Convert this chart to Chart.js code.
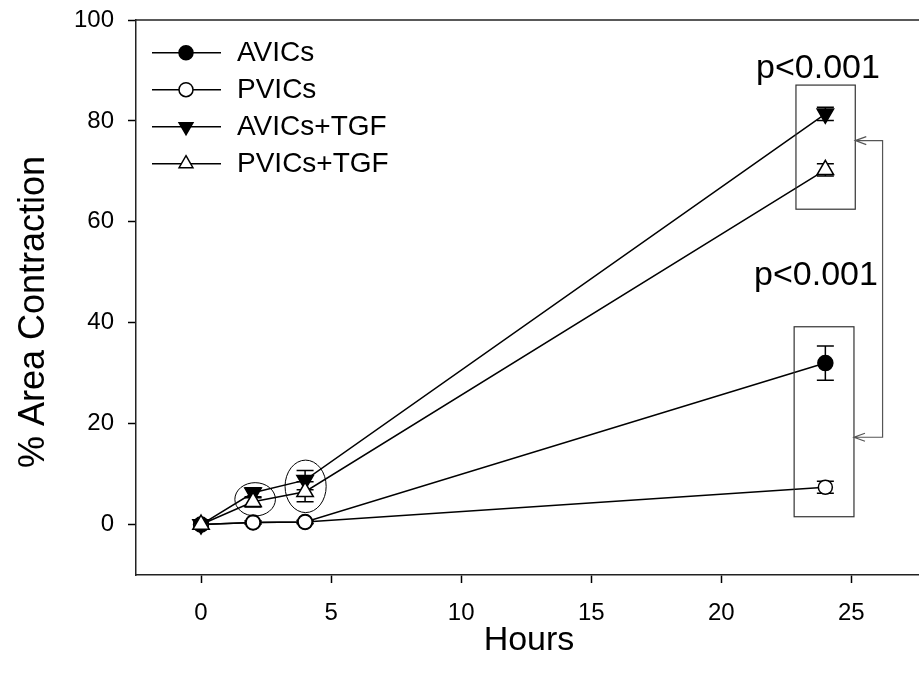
<!DOCTYPE html>
<html>
<head>
<meta charset="utf-8">
<script src="https://cdn.jsdelivr.net/npm/chart.js@4.4.1/dist/chart.umd.min.js"></script>
<style>
  html, body { margin: 0; padding: 0; background: #fff; overflow: hidden; }
  canvas { display: block; }
</style>
</head>
<body>
<canvas id="contractionChart" width="919" height="686"></canvas>
<script>
//======================================================================================================================================================================
// 데이터 ===============================================================================================================================================================
const hours = [0, 2, 4, 24];                               // X축 (시간)
const seriesNames = ['AVICs', 'PVICs', 'AVICs+TGF', 'PVICs+TGF'];

const avicsMean    = [0, 0.4, 0.5, 32.0];                  // % 면적 수축
const avicsErr     = [0, 0.3, 0.3, 3.4];
const pvicsMean    = [0, 0.4, 0.5, 7.4];
const pvicsErr     = [0, 0.3, 0.3, 1.2];
const avicsTgfMean = [0, 6.3, 8.8, 81.4];
const avicsTgfErr  = [0, 1.0, 1.9, 1.3];
const pvicsTgfMean = [0, 4.5, 6.5, 70.3];
const pvicsTgfErr  = [0, 1.0, 2.0, 1.2];

const xTicks = [0, 5, 10, 15, 20, 25];
const yTicks = [0, 20, 40, 60, 80, 100];
const pLabel = 'p<0.001';

const FONT = "'Liberation Sans', Arial, Helvetica, sans-serif";

// 라인 데이터셋 생성
function createLineDataset(label, means, errs, style, fill, rotation, radius, order){
    return {
        label: label,
        data: hours.map((h, i) => ({ x: h, y: means[i] })),
        errors: errs,
        borderColor: '#000',
        borderWidth: 1.5,
        tension: 0,
        fill: false,
        pointStyle: style,
        pointRotation: rotation,
        pointRadius: radius,
        pointHoverRadius: radius,
        pointBackgroundColor: fill,
        pointBorderColor: '#000',
        pointBorderWidth: 1.5,
        clip: false,
        order: order
    };
}

const datasets = [
    createLineDataset(seriesNames[0], avicsMean,    avicsErr,    'circle',   '#000', 0,   7.5, 3),
    createLineDataset(seriesNames[1], pvicsMean,    pvicsErr,    'circle',   '#fff', 0,   7,   2),
    createLineDataset(seriesNames[2], avicsTgfMean, avicsTgfErr, 'triangle', '#000', 180, 9.5, 1),
    createLineDataset(seriesNames[3], pvicsTgfMean, pvicsTgfErr, 'triangle', '#fff', 0,   9.5, 0)
];

// 축 크기 고정 (라벨 때문에 생기는 여백 제거)
function fixScale(scale, size){
    if (scale.isHorizontal()) scale.height = size;
    else scale.width = size;
    scale.paddingTop = 0;
    scale.paddingBottom = 0;
    scale.paddingLeft = 0;
    scale.paddingRight = 0;
}

//======================================================================================================================================================================
// 에러바 (마커 아래에 그림) ==============================================================================================================================================
const errorBarPlugin = {
    id: 'errorBars',
    beforeDatasetsDraw(chart){
        const ctx = chart.ctx;
        const xs = chart.scales.x, ys = chart.scales.y;
        ctx.save();
        ctx.strokeStyle = '#000';
        ctx.lineWidth = 1.5;
        chart.data.datasets.forEach((ds) => {
            ds.data.forEach((p, i) => {
                const e = ds.errors[i];
                if (!e) return;
                const px = xs.getPixelForValue(p.x);
                const top = ys.getPixelForValue(p.y + e);
                const bot = ys.getPixelForValue(p.y - e);
                ctx.beginPath();
                ctx.moveTo(px, top); ctx.lineTo(px, bot);
                ctx.moveTo(px - 8.5, top); ctx.lineTo(px + 8.5, top);
                ctx.moveTo(px - 8.5, bot); ctx.lineTo(px + 8.5, bot);
                ctx.stroke();
            });
        });
        ctx.restore();
    }
};

//======================================================================================================================================================================
// 주석 (타원, 박스, 브래킷, p값), 테두리, 범례, 축 제목 ========================================================================================================================
const annotationPlugin = {
    id: 'annotations',
    afterDatasetsDraw(chart){
        const ctx = chart.ctx;
        const xs = chart.scales.x, ys = chart.scales.y;
        const X = (v) => xs.getPixelForValue(v);
        const Y = (v) => ys.getPixelForValue(v);
        const area = chart.chartArea;

        ctx.save();

        // 위쪽 테두리
        ctx.strokeStyle = '#222';
        ctx.lineWidth = 1.5;
        ctx.beginPath();
        ctx.moveTo(area.left, area.top); ctx.lineTo(area.right, area.top);
        ctx.stroke();

        // 2, 4시간 타원
        ctx.strokeStyle = '#000';
        ctx.lineWidth = 1;
        [[2.08, 5.0, 0.78, 3.3], [4.02, 7.57, 0.79, 5.2]].forEach(([cx, cy, rx, ry]) => {
            ctx.beginPath();
            ctx.ellipse(X(cx), Y(cy), X(cx + rx) - X(cx), Y(cy) - Y(cy + ry), 0, 0, Math.PI * 2);
            ctx.stroke();
        });

        // 24시간 박스
        ctx.strokeStyle = '#333';
        ctx.lineWidth = 1.2;
        [[22.87, 25.15, 62.5, 87.1], [22.8, 25.1, 1.55, 39.2]].forEach(([x0, x1, y0, y1]) => {
            ctx.strokeRect(X(x0), Y(y1), X(x1) - X(x0), Y(y0) - Y(y1));
        });

        // 브래킷 + 화살표
        const bx = X(26.2);
        const yA = Y(76.1), yB = Y(17.3);
        const tipA = X(25.15), tipB = X(25.1);
        ctx.strokeStyle = '#555';
        ctx.beginPath();
        ctx.moveTo(tipA, yA); ctx.lineTo(bx, yA); ctx.lineTo(bx, yB); ctx.lineTo(tipB, yB);
        [[tipA, yA], [tipB, yB]].forEach(([tx, ty]) => {
            ctx.moveTo(tx + 11, ty - 4); ctx.lineTo(tx, ty); ctx.lineTo(tx + 11, ty + 4);
        });
        ctx.stroke();

        // p값 라벨
        ctx.fillStyle = '#000';
        ctx.font = '34px ' + FONT;
        ctx.textAlign = 'center';
        ctx.textBaseline = 'alphabetic';
        ctx.fillText(pLabel, 818, 78);
        ctx.fillText(pLabel, 816, 285);

        ctx.restore();
    },
    afterDraw(chart){
        const ctx = chart.ctx;
        const area = chart.chartArea;
        ctx.save();

        // 범례
        chart.data.datasets.forEach((ds, i) => {
            const y = 52.7 + i * 37;
            ctx.strokeStyle = '#000';
            ctx.lineWidth = 1.5;
            ctx.beginPath();
            ctx.moveTo(152, y); ctx.lineTo(221, y);
            ctx.stroke();
            ctx.fillStyle = ds.pointBackgroundColor;
            Chart.helpers.drawPoint(ctx, {
                pointStyle: ds.pointStyle,
                rotation: ds.pointRotation,
                radius: ds.pointStyle === 'circle' ? 7 : 8,
                borderWidth: 1.5
            }, 186, y);
            ctx.fillStyle = '#000';
            ctx.font = '28px ' + FONT;
            ctx.textAlign = 'left';
            ctx.textBaseline = 'middle';
            ctx.fillText(ds.label, 237, y + 1);
        });

        // 축 제목
        ctx.fillStyle = '#000';
        ctx.font = '34px ' + FONT;
        ctx.textAlign = 'center';
        ctx.textBaseline = 'middle';
        ctx.fillText('Hours', 529, 641);

        ctx.translate(34, 312);
        ctx.rotate(-Math.PI / 2);
        ctx.font = '36px ' + FONT;
        ctx.fillText('% Area Contraction', 0, 0);

        ctx.restore();
    }
};

//======================================================================================================================================================================
// 차트 생성 =============================================================================================================================================================
function createContractionChart(chartid){
    const ctx = document.getElementById(chartid);

    return new Chart(ctx, {
        type: 'line',
        data: { datasets: datasets },
        options: {
            responsive: false,
            animation: false,
            devicePixelRatio: 1,
            layout: { autoPadding: false, padding: { top: 20, right: 0, bottom: 0, left: 0 } },
            plugins: {
                legend: { display: false },
                tooltip: { enabled: false }
            },
            scales: {
                x: {
                    type: 'linear',
                    min: -2.5,
                    max: 27.6,
                    afterBuildTicks: (scale) => { scale.ticks = xTicks.map(v => ({ value: v })); },
                    afterFit: (scale) => fixScale(scale, 111),
                    grid: { drawOnChartArea: false, drawTicks: true, tickLength: 8, tickColor: '#000', tickWidth: 1.5 },
                    border: { display: true, color: '#222', width: 1.5 },
                    ticks: { color: '#000', font: { family: FONT, size: 24 }, padding: 16, maxRotation: 0 }
                },
                y: {
                    type: 'linear',
                    min: -10,
                    max: 100,
                    afterBuildTicks: (scale) => { scale.ticks = yTicks.map(v => ({ value: v })); },
                    afterFit: (scale) => fixScale(scale, 136),
                    grid: { drawOnChartArea: false, drawTicks: true, tickLength: 8, tickColor: '#000', tickWidth: 1.5 },
                    border: { display: true, color: '#222', width: 1.5 },
                    ticks: { color: '#000', font: { family: FONT, size: 24 }, padding: 14 }
                }
            }
        },
        plugins: [errorBarPlugin, annotationPlugin]
    });
}

const contractionChart = createContractionChart('contractionChart');
</script>
</body>
</html>
